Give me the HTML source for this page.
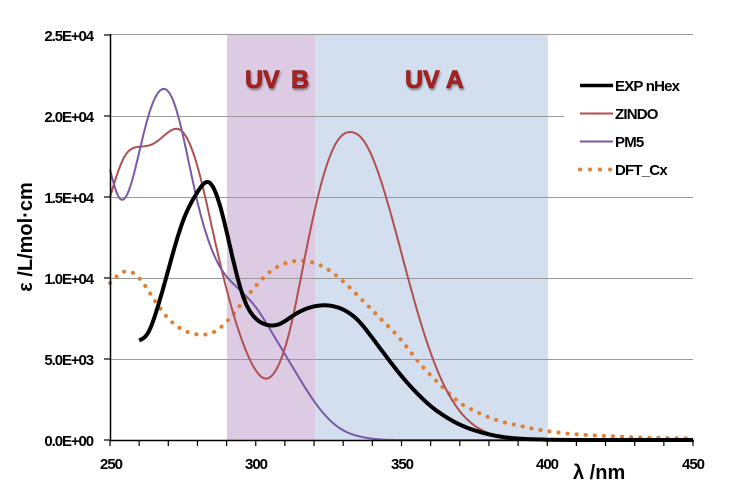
<!DOCTYPE html>
<html><head><meta charset="utf-8"><style>
body{margin:0;background:#fff}
svg{display:block;font-family:"Liberation Sans",sans-serif}
</style></head><body>
<svg id="s" width="739" height="493" viewBox="0 0 739 493" xmlns="http://www.w3.org/2000/svg">
<rect x="0" y="0" width="739" height="493" fill="#fff"/>
<rect x="227" y="34" width="88" height="406" fill="#dccbe3"/>
<rect x="315" y="34" width="233" height="406" fill="#d3dfee"/>
<g stroke="#999" stroke-width="1">
<line x1="110" y1="34.5" x2="693" y2="34.5"/>
<line x1="110" y1="116.5" x2="564" y2="116.5"/>
<line x1="110" y1="197.5" x2="693" y2="197.5"/>
<line x1="110" y1="278.5" x2="693" y2="278.5"/>
<line x1="110" y1="359.5" x2="693" y2="359.5"/>
</g>
<g id="curves"></g>
<g stroke="#000" stroke-width="1.5" fill="none">
<line x1="110.5" y1="34" x2="110.5" y2="441"/>
<line x1="110" y1="440.5" x2="694" y2="440.5"/>
</g>
<g id="ticks" stroke="#000" stroke-width="1.2"></g>
<g font-size="15" font-weight="bold" text-anchor="end" fill="#000" letter-spacing="-1.1">
<text x="93" y="41">2.5E+04</text>
<text x="93" y="122">2.0E+04</text>
<text x="93" y="203">1.5E+04</text>
<text x="93" y="284">1.0E+04</text>
<text x="93" y="365">5.0E+03</text>
<text x="93" y="446">0.0E+00</text>
</g>
<g font-size="15" font-weight="bold" text-anchor="middle" fill="#000" letter-spacing="-1">
<text x="111" y="469">250</text>
<text x="256" y="469">300</text>
<text x="402" y="469">350</text>
<text x="547" y="469">400</text>
<text x="693" y="469">450</text>
</g>
<text x="573" y="479" font-size="20" font-weight="bold">λ /nm</text>
<text transform="translate(32,237) rotate(-90)" font-size="20" font-weight="bold" text-anchor="middle">ε /L/mol·cm</text>
<g font-size="25" font-weight="bold" fill="#b21e1e" stroke="#7a1010" stroke-width="0.6" style="filter:drop-shadow(1px 2px 1px rgba(0,0,0,0.4))">
<text x="245" y="88">UV</text><text x="291" y="88">B</text>
<text x="405" y="88">UV A</text>
</g>
<rect x="564" y="62" width="129" height="118" fill="#fff"/>
<line x1="580" y1="85.5" x2="613" y2="85.5" stroke="#000" stroke-width="3.5"/>
<line x1="580" y1="113.5" x2="613" y2="113.5" stroke="#b84a4a" stroke-width="2"/>
<line x1="580" y1="141.5" x2="613" y2="141.5" stroke="#7a5aa6" stroke-width="2"/>
<g fill="#e07f30"><circle cx="580" cy="169.5" r="2"/><circle cx="590" cy="169.5" r="2"/><circle cx="600" cy="169.5" r="2"/><circle cx="610" cy="169.5" r="2"/></g>
<g font-size="15" font-weight="bold" letter-spacing="-0.8">
<text x="615" y="91">EXP nHex</text>
<text x="615" y="119">ZINDO</text>
<text x="615" y="147">PM5</text>
<text x="615" y="175">DFT_Cx</text>
</g>
</svg>
<script>
function px(n){return 110+(n-250)*2.915}
function py(v){return 440-v*0.0162}
function interp(pts){
 var n=pts.length,x=pts.map(function(a){return a[0]}),y=pts.map(function(a){return a[1]});
 var h=[],al=[],l=[1],mu=[0],z=[0],c=[],b=[],d=[];
 for(var i=0;i<n-1;i++)h[i]=x[i+1]-x[i];
 for(var i=1;i<n-1;i++)al[i]=3/h[i]*(y[i+1]-y[i])-3/h[i-1]*(y[i]-y[i-1]);
 for(var i=1;i<n-1;i++){l[i]=2*(x[i+1]-x[i-1])-h[i-1]*mu[i-1];mu[i]=h[i]/l[i];z[i]=(al[i]-h[i-1]*z[i-1])/l[i];}
 c[n-1]=0;
 for(var j=n-2;j>=0;j--){c[j]=z[j]-mu[j]*c[j+1];b[j]=(y[j+1]-y[j])/h[j]-h[j]*(c[j+1]+2*c[j])/3;d[j]=(c[j+1]-c[j])/(3*h[j]);}
 var out=[];
 for(var i=0;i<n-1;i++){
  for(var k=0;k<10;k++){var t=h[i]*k/10;out.push([x[i]+t,Math.max(0,y[i]+b[i]*t+c[i]*t*t+d[i]*t*t*t)]);}
 }
 out.push([x[n-1],y[n-1]]);
 return out;
}
var NS="http://www.w3.org/2000/svg",g=document.getElementById("curves");
function add(pts,col,w,dash){
 var s=interp(pts);
 var d="M"+s.map(function(a){return px(a[0]).toFixed(1)+","+py(a[1]).toFixed(1)}).join("L");
 var e=document.createElementNS(NS,"path");
 e.setAttribute("d",d);e.setAttribute("fill","none");e.setAttribute("stroke",col);
 e.setAttribute("stroke-width",w);e.setAttribute("stroke-linejoin","round");
 if(dash){e.setAttribute("stroke-dasharray",dash);e.setAttribute("stroke-linecap","round");}
 g.appendChild(e);
}
var dft=[[250,9700],[255,10400],[260,10000],[265,8700],[270,7500],[275,6800],[281,6500],[286,6700],[290,7300],[295,8400],[300,9500],[305,10400],[310,10900],[317,11050],[322,10800],[328,10100],[334,9100],[340,8000],[345,7100],[350,6150],[355,5000],[360,4000],[365,3100],[370,2300],[375,1800],[380,1400],[385,1100],[390,900],[395,700],[400,550],[410,350],[420,250],[430,170],[440,120],[450,100]];
var zin=[[250,15000],[255,17500],[260,18100],[265,18300],[270,19000],[274,19150],[278,18000],[282,15500],[286,12300],[290,9300],[295,6300],[300,4300],[304,3800],[308,4700],[312,7000],[316,10500],[320,14000],[325,17300],[329,18700],[333,19000]];
for(var n=337;n<=401;n+=4){zin.push([n,19000*Math.exp(-(n-333)*(n-333)/578)]);}
zin.push([420,0],[450,0]);
var pm=[[250,16700],[253,15000],[256,15200],[259,17000],[263,19900],[266,21300],[269,21650],[272,20800],[276,18000],[280,14700],[284,12200],[288,10600],[292,9700],[296,9000],[300,8200],[305,6800],[310,5300],[315,3800],[320,2400],[325,1300],[330,600],[335,250],[340,80],[350,0],[400,0],[450,0]];
var exp=[[260,6150],[263,6600],[266,8000],[270,10500],[275,13500],[280,15300],[284,15900],[288,14300],[292,11300],[296,8700],[300,7500],[304,7100],[308,7150],[313,7700],[319,8200],[325,8300],[330,8050],[335,7400],[340,6300],[345,5100],[350,3950],[355,2950],[360,2100],[365,1450],[370,950],[375,600],[380,350],[385,180],[390,90],[400,20],[450,0]];
add(dft,"#e07f30",4,"0.1 9");
add(zin,"#b05050",2);
add(pm,"#7a5aa6",2);
add(exp,"#000",4);
var t=document.getElementById("ticks"),s="";
for(var n=250;n<=450;n+=10){var x=px(n);s+='<line x1="'+x+'" y1="440" x2="'+x+'" y2="446"/>';}
[0,5000,10000,15000,20000,25000].forEach(function(v){var y=py(v);s+='<line x1="104" y1="'+y+'" x2="110" y2="'+y+'"/>';});
t.innerHTML=s;
</script>
</body></html>
